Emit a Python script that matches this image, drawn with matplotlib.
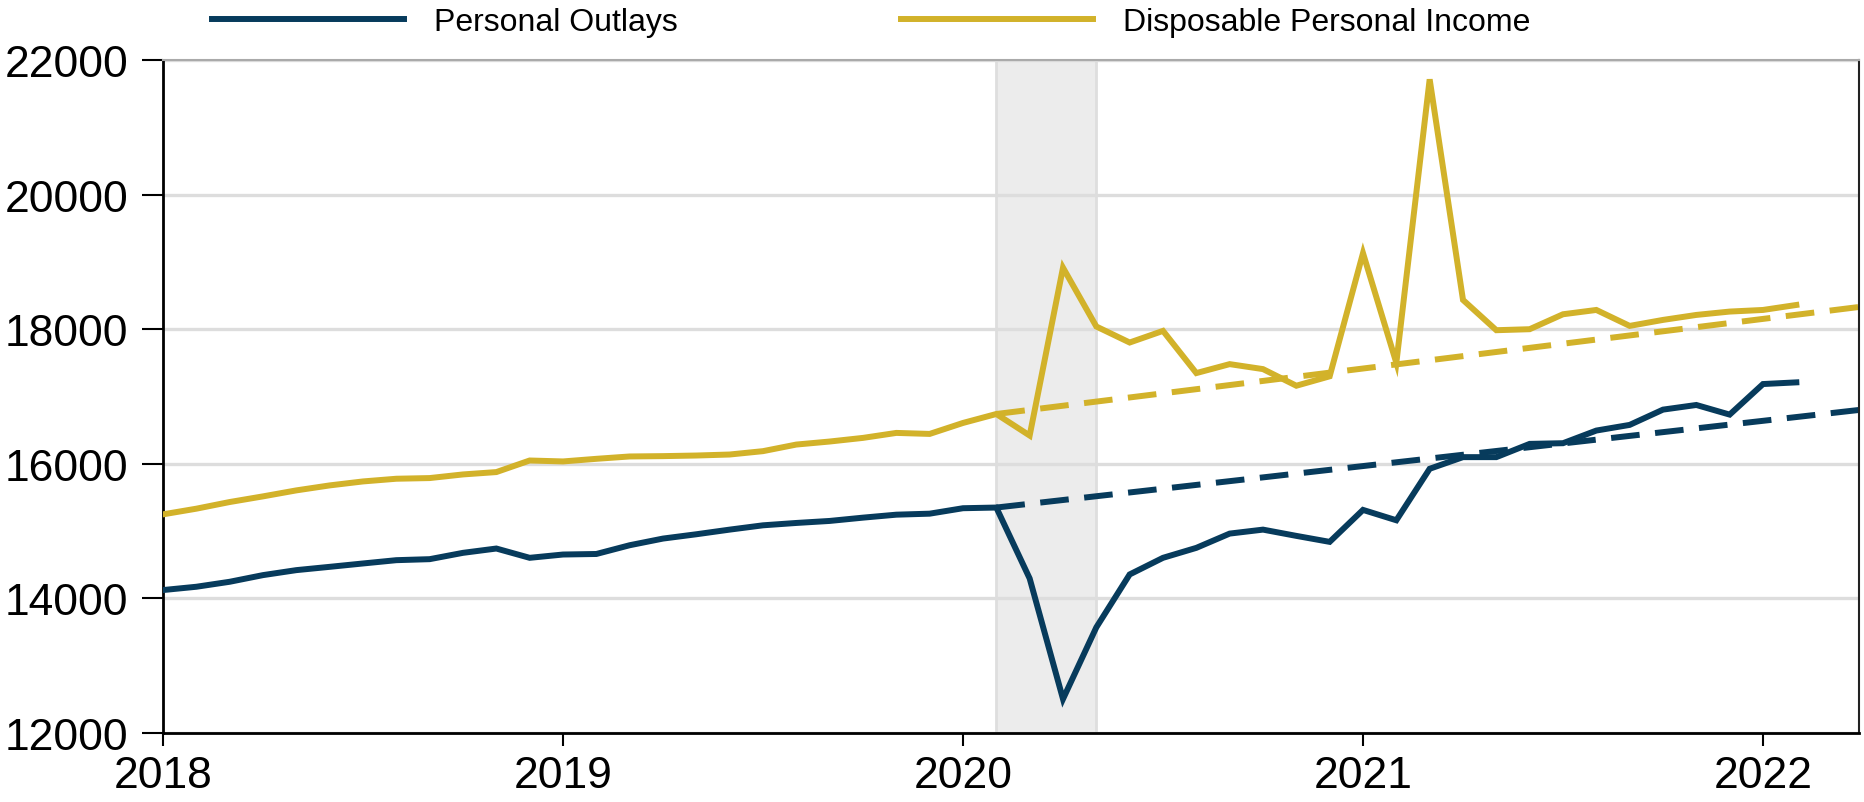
import numpy as np
import matplotlib
matplotlib.use("Agg")
import matplotlib.pyplot as plt

plt.rcParams['font.family'] = ['Liberation Sans', 'DejaVu Sans']

# ---- data (monthly, Jan 2018 .. Feb 2022) ----
start_year = 2018
n_months = 50
personal_outlays = [14124, 14173, 14247, 14346, 14420, 14469, 14519, 14568, 14583, 14677,
                    14741, 14603, 14652, 14660, 14790, 14889, 14953, 15022, 15086, 15121,
                    15151, 15200, 15244, 15259, 15340, 15350, 14296, 12505, 13570, 14356,
                    14603, 14751, 14963, 15022, 14929, 14840, 15315, 15161, 15926, 16099,
                    16099, 16296, 16306, 16494, 16578, 16805, 16874, 16731, 17185, 17210]
disposable_income = [15249, 15333, 15432, 15516, 15605, 15679, 15738, 15778, 15788, 15842,
                     15877, 16049, 16035, 16074, 16109, 16114, 16123, 16138, 16188, 16286,
                     16331, 16385, 16459, 16444, 16607, 16740, 16420, 18914, 18040, 17802,
                     17975, 17348, 17481, 17407, 17160, 17300, 19130, 17500, 21713, 18435,
                     17985, 18000, 18222, 18286, 18049, 18138, 18212, 18262, 18286, 18360]
# pre-pandemic trend lines: (start, end) in decimal years and values
trend_x = [2020 + 1/12, 2022.24]
outlays_trend = [15350, 16800]
income_trend = [16740, 18330]
recession = [2020 + 1/12, 2020 + 4/12]
y_ticks = [12000, 14000, 16000, 18000, 20000, 22000]
x_ticks = [2018, 2019, 2020, 2021, 2022]
labels = ["Personal Outlays", "Disposable Personal Income"]

BLUE = "#073B5C"
GOLD = "#D2B22A"

x = start_year + np.arange(n_months) / 12

fig = plt.figure(figsize=(18.65, 8.03), dpi=100)
ax = fig.add_axes([163/1865, 1 - 734/803, (1859-163)/1865, (734-61)/803])

ax.axvspan(recession[0], recession[1], facecolor="#ececec", edgecolor="#dedede",
           linewidth=2, zorder=0)
for yt in y_ticks:
    ax.axhline(yt, color="#dddddd", linewidth=2.4, zorder=0.5)

lw = 4.3
ax.plot(trend_x, income_trend, color=GOLD, lw=lw, dashes=(4.8, 2.6), zorder=2)
ax.plot(trend_x, outlays_trend, color=BLUE, lw=lw, dashes=(4.8, 2.6), zorder=2)
l1, = ax.plot(x, personal_outlays, color=BLUE, lw=lw, zorder=3, solid_joinstyle='miter')
l2, = ax.plot(x, disposable_income, color=GOLD, lw=lw, zorder=3, solid_joinstyle='miter')

ax.set_xlim(2018, 2022.24)
ax.set_ylim(12000, 22000)
ax.set_yticks(y_ticks)
ax.set_yticklabels([str(v) for v in y_ticks])
ax.set_xticks(x_ticks)
ax.set_xticklabels([str(v) for v in x_ticks])
ax.tick_params(axis='y', length=15, width=1.5, labelsize=32, pad=10, direction='out')
ax.tick_params(axis='x', length=9, width=1.5, labelsize=32, pad=6.5, direction='out')

for s in ['left', 'bottom']:
    ax.spines[s].set_color('black')
    ax.spines[s].set_linewidth(2)
ax.spines['right'].set_color('#222222')
ax.spines['right'].set_linewidth(1.5)
ax.spines['top'].set_color('#aaaaaa')
ax.spines['top'].set_linewidth(1.5)

fig.legend([l1, l2], labels, loc='center left', bbox_to_anchor=(212/1865, 1 - 23.5/803),
           ncol=2, frameon=False, fontsize=23, handlelength=6.0, handletextpad=0.95,
           columnspacing=7.0, borderpad=0, borderaxespad=0)

fig.savefig("out.png", dpi=100)
